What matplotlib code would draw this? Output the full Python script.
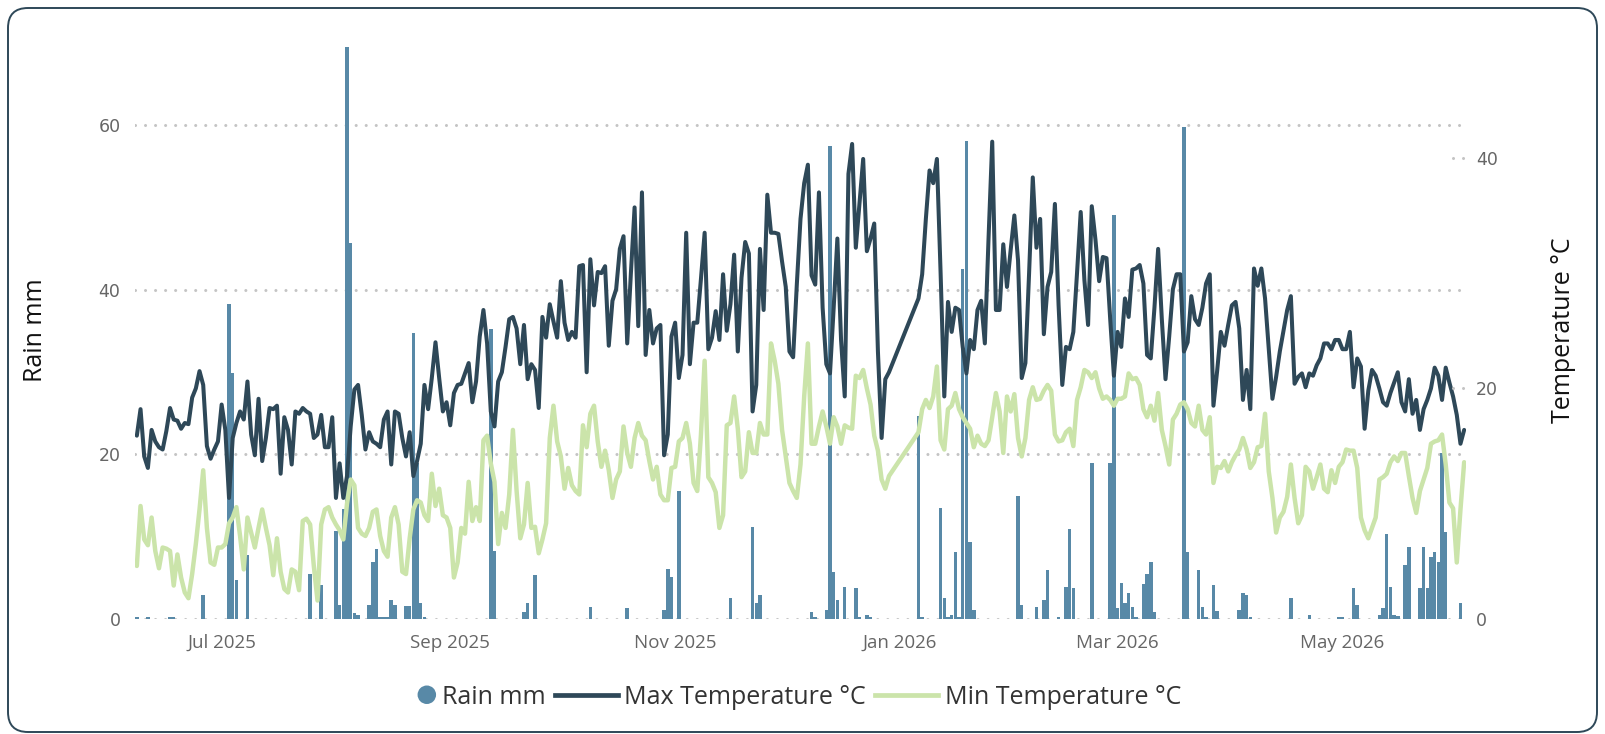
import numpy as np
import pandas as pd
import matplotlib
matplotlib.use('Agg')
import matplotlib.pyplot as plt
import matplotlib.dates as mdates
from matplotlib.patches import FancyBboxPatch, Circle
from matplotlib.lines import Line2D
from matplotlib.legend_handler import HandlerBase
from matplotlib.transforms import IdentityTransform

# ---------------------------------------------------------------- data
start_date = '2025-06-08'
n_days = 361

# daily rain, mm (one value per day from start_date)
rain_mm = [
    0.3, 0, 0, 0.2, 0, 0, 0, 0, 0, 0.3,
    0.3, 0, 0, 0, 0, 0, 0, 0, 2.9, 0,
    0, 0, 0, 0, 0, 38.2, 29.9, 4.7, 0, 0,
    7.8, 0, 0, 0, 0, 0, 0, 0, 0, 0,
    0, 0, 0, 0, 0, 0, 0, 5.5, 0, 0,
    4.1, 0, 0, 0, 10.7, 1.7, 13.4, 69.4, 45.7, 0.7,
    0.5, 0, 0, 1.7, 6.9, 8.5, 0.3, 0.3, 0.3, 2.3,
    1.7, 0, 0, 1.6, 1.6, 34.7, 19.0, 1.9, 0.3, 0,
    0, 0, 0, 0, 0, 0, 0, 0, 0, 0,
    0, 0, 0, 0, 0, 0, 35.2, 8.3, 0, 0,
    0, 0, 0, 0, 0, 0.8, 2.0, 0, 5.3, 0,
    0, 0, 0, 0, 0, 0, 0, 0, 0, 0,
    0, 0, 0, 1.4, 0, 0, 0, 0, 0, 0,
    0, 0, 0, 1.3, 0, 0, 0, 0, 0, 0,
    0, 0, 0, 1.1, 6.1, 5.1, 0, 15.6, 0, 0,
    0, 0, 0, 0, 0, 0, 0, 0, 0, 0,
    0, 2.5, 0, 0, 0, 0, 0, 11.2, 1.9, 2.9,
    0, 0, 0, 0, 0, 0, 0, 0, 0, 0,
    0, 0, 0, 0.8, 0.3, 0, 0, 1.1, 57.4, 5.7,
    2.3, 0, 3.9, 0, 0, 3.8, 0.3, 0, 0.5, 0.3,
    0, 0, 0, 0, 0, 0, 0, 0, 0, 0,
    0, 0, 24.6, 0.3, 0, 0, 0, 0, 13.5, 2.6,
    0.3, 0.5, 8.1, 0.3, 42.5, 58.0, 9.4, 1.1, 0, 0,
    0, 0, 0, 0, 0, 0, 0, 0, 0, 14.9,
    1.7, 0, 0, 0, 1.4, 0, 2.3, 5.9, 0, 0,
    0.3, 0, 3.9, 10.9, 3.8, 0, 0, 0, 0, 18.9,
    0, 0, 0, 0, 18.9, 49.1, 1.3, 4.4, 2.0, 3.1,
    1.4, 0.3, 0, 4.2, 5.5, 6.9, 0.8, 0, 0, 0,
    0, 0, 0, 0, 59.8, 8.1, 0, 0, 5.9, 1.4,
    0.3, 0, 4.1, 1.0, 0, 0, 0, 0, 0, 1.1,
    3.2, 2.9, 0.3, 0, 0, 0, 0, 0, 0, 0,
    0, 0, 0, 2.5, 0, 0, 0, 0, 0.5, 0,
    0, 0, 0, 0, 0, 0, 0.3, 0.3, 0, 0,
    3.8, 1.7, 0, 0, 0, 0, 0, 0.5, 1.3, 10.3,
    3.9, 0.5, 0.4, 0, 6.5, 8.7, 0, 0, 3.8, 8.8,
    3.8, 7.5, 8.1, 6.9, 20.1, 10.6, 0, 0, 0, 1.9,
    0,
]

# daily max temperature, deg C (None = no reading)
max_temp = [
    15.9, 18.2, 14.1, 13.1, 16.4, 15.4, 14.9, 14.7, 16.3, 18.3,
    17.3, 17.2, 16.5, 17.0, 16.9, 19.2, 20.0, 21.5, 20.3, 15.0,
    13.9, 14.7, 15.4, 18.6, 16.4, 10.5, 15.7, 17.0, 18.0, 17.3,
    20.6, 16.0, 14.2, 19.1, 13.7, 15.7, 18.3, 18.2, 18.5, 12.6,
    17.5, 16.4, 13.4, 18.0, 17.8, 18.3, 18.0, 17.8, 15.7, 16.0,
    17.7, 14.9, 14.9, 17.5, 10.5, 13.5, 10.5, 12.4, 16.7, 19.9,
    20.3, 17.7, 14.7, 16.2, 15.4, 15.2, 14.9, 17.3, 18.0, 13.4,
    18.0, 17.8, 15.7, 14.1, 16.2, 12.4, 13.7, 15.2, 20.3, 18.2,
    20.9, 24.0, 20.9, 18.0, 18.8, 16.8, 19.6, 20.3, 20.4, 21.3,
    22.2, 18.8, 20.6, 24.5, 26.8, 23.9, 18.0, 16.7, 20.6, 21.4,
    23.6, 26.0, 26.2, 25.2, 22.1, 25.5, 20.8, 22.1, 21.6, 18.3,
    26.2, 24.4, 27.3, 25.8, 24.4, 29.3, 25.7, 24.2, 24.9,
    24.4, 30.6, 30.7, 21.4, 31.2, 27.2, 30.1, 30.0, 30.6, 23.7,
    27.6, 28.6, 32.1, 33.2, 23.9, 30.0, 35.7, 25.4, 37.0, 22.9,
    26.8, 23.9, 25.2, 25.5, 14.2, 16.0, 24.5, 25.7, 20.9, 22.9,
    33.5, 22.1, 25.7, 25.7, 29.5, 33.5, 23.4, 24.4, 26.7, 24.2,
    29.9, 25.0, 27.3, 31.6, 23.2, 29.6, 32.7, 31.7, 18.0, 20.3,
    32.1, 26.8, 36.8, 33.5, 33.5, 33.4, 31.0, 28.8, 23.2, 22.7,
    29.0, 34.7, 37.8, 39.4, 29.8, 29.0, 37.0, 27.0, 22.1, 21.3,
    27.0, 33.0, 24.2, 19.3, 38.6, 41.2, 32.2, 36.0, 39.9, 31.9,
    33.0, 34.3, 23.2, 15.7, 20.8, 21.4,
    None, None, None, None, None, None, None,
    27.8, 29.9, 34.7, 38.9, 37.8, 39.9, 30.0, 19.3, 27.5, 24.9,
    27.0, 26.8, 23.6, 21.3, 24.2, 23.4, 26.8, 27.6, 23.9, 33.0,
    41.4, 26.8, 26.8, 32.5, 28.8, 32.0, 35.0,
    31.1, 20.9, 22.2, 30.0, 38.3, 32.2, 34.7, 24.7, 28.8, 30.1,
    36.0, 27.2, 20.3, 23.6, 23.4, 24.9, 30.0, 35.3, 29.4, 25.5,
    35.8, 32.9, 29.3, 31.4, 31.3, 26.0, 21.1, 24.9, 23.6, 27.8,
    26.2, 30.3, 30.4, 30.7, 29.1, 22.9, 22.6, 27.0, 32.1, 26.0,
    20.8, 24.5, 28.6, 29.9, 29.9, 23.2, 24.0, 28.0, 26.0, 25.5,
    27.0, 29.1, 29.9, 18.5, 21.5, 24.9, 23.7, 25.5, 27.2, 27.5,
    25.2, 19.0, 21.6, 18.2, 30.4, 28.9, 30.4, 27.8, 23.5, 19.1,
    21.0, 23.2, 25.0, 26.8, 28.0, 20.4, 21.0, 21.3, 20.1, 21.3,
    21.1, 22.0, 22.6, 23.9, 23.9, 23.4, 24.2, 24.2, 23.4, 23.4,
    24.9, 20.1, 22.6, 21.9, 16.5, 19.8, 21.6, 21.1, 20.0, 18.8,
    18.5, 19.6, 20.5, 21.4, 18.8, 18.0, 20.8, 17.8, 19.0, 16.4,
    18.2, 19.0, 20.0, 21.8, 21.1, 19.0, 21.8, 20.5, 19.3, 17.7,
    15.2, 16.4,
]

# daily min temperature, deg C (None = no reading)
min_temp = [
    4.6, 9.8, 6.9, 6.4, 8.8, 5.9, 4.4, 6.2, 6.1, 5.9,
    2.9, 5.6, 3.6, 2.3, 1.8, 3.9, 6.5, 9.5, 12.9, 7.9,
    4.9, 4.7, 6.2, 6.2, 6.5, 8.3, 8.8, 9.7, 7.2, 4.3,
    8.8, 7.5, 6.2, 7.9, 9.5, 7.9, 6.4, 3.8, 7.0, 4.1,
    2.6, 2.3, 4.3, 4.1, 2.5, 8.5, 8.7, 8.2, 4.6, 1.6,
    8.2, 9.5, 9.7, 8.8, 8.2, 7.7, 6.9, 10.0, 12.1, 11.6,
    7.9, 7.4, 7.2, 7.9, 9.3, 9.5, 7.2, 5.9, 5.4, 8.8,
    9.7, 8.2, 4.1, 3.9, 7.0, 9.5, 10.3, 10.1, 9.0, 8.5,
    12.6, 9.8, 11.3, 9.0, 8.8, 7.9, 3.6, 4.9, 7.9, 7.4,
    11.9, 8.5, 9.7, 8.5, 15.5, 15.9, 13.5, 11.9, 6.5, 9.2,
    7.9, 10.8, 16.4, 11.1, 7.0, 8.2, 11.8, 7.9, 8.0, 5.7,
    6.9, 8.3, 15.7, 18.5, 15.4, 14.1, 11.3, 13.1, 11.6, 11.1,
    10.8, 16.8, 14.9, 17.8,
    18.5, 15.4, 13.2, 14.6, 12.9, 10.5, 12.1, 12.8, 16.7, 14.4,
    13.2, 15.7, 17.0, 15.9, 15.5, 13.7, 12.1, 13.2, 10.8, 10.3,
    10.3, 13.1, 13.2, 15.4, 15.7, 17.0, 15.2, 11.8, 11.1, 16.0,
    22.4, 12.3, 11.8, 11.0, 7.9, 9.0, 16.8, 17.0, 19.3, 16.5,
    12.3, 12.8, 16.2, 14.4, 14.4, 17.0, 16.0, 16.0, 23.9, 22.4,
    20.4, 16.4, 14.1, 11.8, 11.1,
    10.5, 13.4, 19.3, 23.9, 15.2, 15.2, 16.7, 18.0, 16.7, 15.2,
    17.5, 16.7, 15.2, 16.8, 16.6, 16.5, 21.1, 20.9, 21.6, 20.0,
    18.6, 15.9, 14.6, 12.1, 11.3, 12.4,
    None, None, None, None, None, None, None,
    16.2, 18.2, 19.0, 18.3, 19.3, 21.9, 15.5, 14.7, 18.2, 18.5,
    19.6, 18.2, 17.5, 17.0, 16.5, 14.9, 15.9, 15.2, 15.0, 15.5,
    17.5, 19.6, 18.0, 14.4, 19.3, 18.0, 19.5,
    15.7, 14.1, 15.7, 19.0, 20.1, 19.0, 19.1, 19.8, 20.3, 19.8,
    16.0, 15.4, 15.5, 16.2, 16.5, 15.0, 19.0, 20.1, 21.6, 21.4,
    20.9, 21.4, 20.0, 19.1, 19.3, 19.0, 18.5, 19.1, 19.1, 19.3,
    21.3, 20.8, 20.9, 20.3, 18.2, 17.5, 18.5, 17.2, 19.6, 16.4,
    15.0, 13.4, 17.3, 17.8, 18.6, 18.8, 18.2, 17.0, 16.7, 18.5,
    16.4, 16.0, 17.5, 11.8, 13.2, 13.1, 13.7, 12.8, 13.6, 14.2,
    14.7, 15.7, 14.7, 13.1, 13.6, 14.9, 15.0, 17.8, 12.8, 10.5,
    7.5, 8.8, 9.3, 10.6, 13.4, 10.5, 8.3, 9.0, 13.2, 12.8,
    11.3, 12.3, 13.4, 11.3, 11.0, 12.9, 11.8, 13.2, 13.6, 14.7,
    14.6, 14.6, 13.1, 8.8, 7.7, 7.0, 7.9, 8.8, 12.1, 12.3,
    12.6, 13.6, 14.1, 13.7, 14.4, 14.4, 12.4, 10.5, 9.2, 11.1,
    12.1, 13.1, 15.2, 15.4, 15.5, 16.0, 13.4, 10.1, 9.6, 4.9,
    9.5, 13.6,
]

rain_ticks = [0, 20, 40, 60]
temp_ticks = [0, 20, 40]
legend_labels = ['Rain mm', 'Max Temperature °C', 'Min Temperature °C']

# ---------------------------------------------------------------- style
rain_color = '#5889a7'
max_color = '#2e4858'
min_color = '#cbe4aa'
grid_color = '#c4c4c4'
tick_color = '#666666'
text_color = '#333333'
label_font = ['Open Sans', 'DejaVu Sans']
num_font = ['DejaVu Sans']

dates = pd.date_range(start_date, periods=n_days, freq='D')
temps = pd.DataFrame({'max': max_temp, 'min': min_temp}, index=dates, dtype=float).dropna()

W, H = 1605, 734
fig = plt.figure(figsize=(W / 100, H / 100), dpi=100)
ax_left, ax_right, ax_bottom, ax_top = 135, 1466, 619, 42.5
ax = fig.add_axes([ax_left / W, 1 - ax_bottom / H, (ax_right - ax_left) / W, (ax_bottom - ax_top) / H])

ax.bar(dates, rain_mm, width=0.95, color=rain_color, linewidth=0, zorder=2)
ax.set_ylim(0, 70)
ax.set_yticks(rain_ticks)
ax.set_xlim(dates[0] - pd.Timedelta(hours=12), dates[-1] + pd.Timedelta(hours=12))

grid_lw = 2.2
dots = (0, (0.01, 7.2 / grid_lw))
ax.yaxis.grid(True, linestyle=dots, linewidth=grid_lw, color=grid_color, dash_capstyle='round', zorder=0)
ax.set_axisbelow(True)

ax2 = ax.twinx()
ax2.plot(temps.index, temps['max'], color=max_color, lw=2.9, solid_joinstyle='round', solid_capstyle='round')
ax2.plot(temps.index, temps['min'], color=min_color, lw=3.2, solid_joinstyle='round', solid_capstyle='round')
ax2.set_ylim(0, 50)
ax2.set_yticks(temp_ticks)
# right axis grid only shows as a short stub next to its labels
for t in temp_ticks[1:]:
    ax2.plot([0.99, 1.002], [t, t], transform=ax2.get_yaxis_transform(), clip_on=False,
             linestyle=dots, linewidth=grid_lw, color=grid_color, dash_capstyle='round')

for a in (ax, ax2):
    for s in a.spines.values():
        s.set_visible(False)
    a.tick_params(length=0)

ax.xaxis.set_major_locator(mdates.MonthLocator(bymonth=[1, 3, 5, 7, 9, 11]))
ax.xaxis.set_major_formatter(mdates.DateFormatter('%b %Y'))
ax.tick_params(axis='x', pad=11, labelsize=13.5, labelcolor=tick_color)
for lab in ax.get_xticklabels():
    lab.set_family(label_font)
ax.tick_params(axis='y', pad=10.5, labelsize=12.5, labelcolor=tick_color)
ax2.tick_params(axis='y', pad=7, labelsize=12.5, labelcolor=tick_color)
for lab in ax.get_yticklabels() + ax2.get_yticklabels():
    lab.set_family(num_font)

fig.text(36 / W, 1 - 330 / H, 'Rain mm', rotation=90, ha='center', va='center',
         fontsize=18, color='#111111', family=label_font)
fig.text(1563 / W, 1 - 330 / H, 'Temperature °C', rotation=90, ha='center', va='center',
         fontsize=18, color='#111111', family=label_font)


class DotHandler(HandlerBase):
    def create_artists(self, legend, orig_handle, xdescent, ydescent, width, height, fontsize, trans):
        r = 0.37 * fontsize
        c = Circle((width - xdescent - r, height / 2 - ydescent), r, facecolor=rain_color,
                   edgecolor='none', transform=trans)
        return [c]


rain_handle = Circle((0, 0), 1, color=rain_color)
max_handle = Line2D([], [], color=max_color, lw=3.4)
min_handle = Line2D([], [], color=min_color, lw=3.4)
leg = fig.legend([rain_handle, max_handle, min_handle], legend_labels,
                 loc='center', bbox_to_anchor=(0.484, 1 - 697 / H), ncol=3, frameon=False,
                 handlelength=2.54, handletextpad=0.25, columnspacing=0.35,
                 handler_map={Circle: DotHandler()},
                 prop={'family': label_font, 'size': 18})
for t in leg.get_texts():
    t.set_color(text_color)

frame = FancyBboxPatch((8, 2), 1589, 724, boxstyle='round,pad=0,rounding_size=20',
                       transform=IdentityTransform(), fill=False, edgecolor='#2e4858', linewidth=1.4)
fig.add_artist(frame)

fig.savefig('out.png', dpi=100)
